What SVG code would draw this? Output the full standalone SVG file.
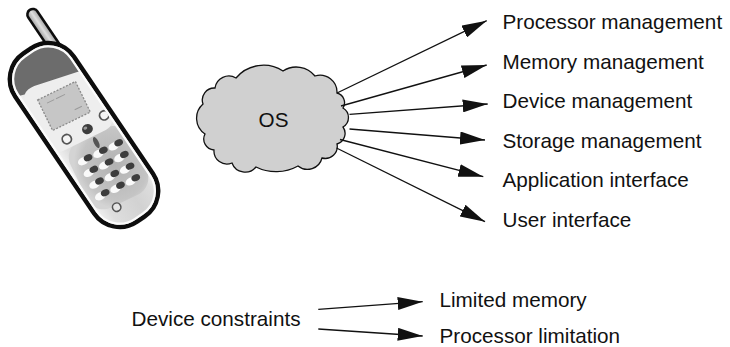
<svg xmlns="http://www.w3.org/2000/svg" width="730" height="347" viewBox="0 0 730 347">
  <defs>
    <style>
      .lbl{font-family:"Liberation Sans",Arial,Helvetica,sans-serif;font-size:20.7px;fill:#111}
      .conn{stroke:#111;stroke-width:1.3;fill:none;marker-end:url(#ah)}
      .key-lit{fill:#fafafa}
      .key-dark{fill:#3e3e3e}
    </style>
    <marker id="ah" markerUnits="userSpaceOnUse" markerWidth="25" markerHeight="13" viewBox="0 0 25 13" refX="25" refY="6.5" orient="auto">
      <path d="M0,0 L25,6.5 L0,13 Z" fill="#111"/>
    </marker>
    <linearGradient id="bodyGrad" x1="0" y1="0" x2="1" y2="0">
      <stop offset="0" stop-color="#f6f6f6"/>
      <stop offset="0.2" stop-color="#dedede"/>
      <stop offset="0.6" stop-color="#d2d2d2"/>
      <stop offset="0.86" stop-color="#dcdcdc"/>
      <stop offset="1" stop-color="#f2f2f2"/>
    </linearGradient>
    <linearGradient id="antGrad" x1="0" y1="0" x2="1" y2="0">
      <stop offset="0" stop-color="#9c9c9c"/>
      <stop offset="0.5" stop-color="#dedede"/>
      <stop offset="1" stop-color="#a0a0a0"/>
    </linearGradient>
    <radialGradient id="padGrad" cx="0.6" cy="0.5" r="0.6">
      <stop offset="0" stop-color="#b2b2b2"/>
      <stop offset="0.8" stop-color="#c4c4c4"/>
      <stop offset="1" stop-color="#d4d4d4"/>
    </radialGradient>
    <clipPath id="bodyClip">
      <rect x="-32" y="-98" width="64" height="196" rx="27"/>
    </clipPath>
    <filter id="soft" x="-10%" y="-10%" width="120%" height="120%">
      <feGaussianBlur stdDeviation="0.5"/>
    </filter>
  </defs>

  <rect width="730" height="347" fill="#ffffff"/>

  <!-- mobile handset -->
  <g id="phone" filter="url(#soft)">
    <g transform="translate(84,135) rotate(-34)">
      <!-- antenna -->
      <rect x="19.5" y="-134" width="11" height="50" rx="5.5" fill="url(#antGrad)" stroke="#111" stroke-width="2.6"/>
      <!-- casing -->
      <rect x="-35.5" y="-101.5" width="71" height="203" rx="31" fill="url(#bodyGrad)" stroke="#111" stroke-width="4.5"/>
      <g clip-path="url(#bodyClip)">
        <!-- dark earpiece cap -->
        <path d="M-36,-104 L36,-104 L36,-50 Q0,-57 -36,-70 Z" fill="#6c6c6c"/>
        <!-- face, in its own slightly steeper perspective -->
        <g transform="rotate(34) translate(-20,-29) rotate(-26)">
          <!-- keypad backdrop -->
          <rect x="-20" y="38" width="66" height="74" rx="18" fill="url(#padGrad)"/>
          <!-- screen surround -->
          <path d="M-34,-16 Q-34,-32 -18,-31 L26,-25 Q38,-23 38,-10 L38,28 Q38,39 27,40 L-20,40 Q-34,40 -34,28 Z" fill="#eeeeee"/>
          <!-- display -->
          <rect x="-21" y="-17" width="42" height="34" fill="#c6c6c6" stroke="#8a8a8a" stroke-width="1.3" stroke-dasharray="2 1.5"/>
          <path d="M-14,-10 h8 M-4,-10 h10 M8,8 h8" stroke="#9a9a9a" stroke-width="1" fill="none"/>
          <!-- navigation buttons -->
          <circle cx="-12" cy="31" r="4.6" fill="#f4f4f4" stroke="#555" stroke-width="1.8"/>
          <ellipse cx="11" cy="31" rx="5.5" ry="5" fill="#3c3c3c"/>
          <ellipse cx="9.5" cy="29.2" rx="2" ry="1.5" fill="#9a9a9a"/>
          <circle cx="32" cy="26" r="4.6" fill="#f4f4f4" stroke="#555" stroke-width="1.8"/>
          <ellipse cx="13" cy="47" rx="2.4" ry="6" fill="#555"/>
          <!-- keys -->
          <g id="keys">
            <ellipse class="key-lit" cx="-7" cy="58" rx="5.5" ry="3.8"/><ellipse class="key-dark" cx="-1" cy="57" rx="4.5" ry="3.3"/>
            <ellipse class="key-lit" cx="10" cy="58" rx="5.5" ry="3.8"/><ellipse class="key-dark" cx="16" cy="57" rx="4.5" ry="3.3"/>
            <ellipse class="key-lit" cx="27" cy="58" rx="5.5" ry="3.8"/><ellipse class="key-dark" cx="33" cy="57" rx="4.5" ry="3.3"/>
            <ellipse class="key-lit" cx="-7" cy="71" rx="5.5" ry="3.8"/><ellipse class="key-dark" cx="-1" cy="70" rx="4.5" ry="3.3"/>
            <ellipse class="key-lit" cx="10" cy="71" rx="5.5" ry="3.8"/><ellipse class="key-dark" cx="16" cy="70" rx="4.5" ry="3.3"/>
            <ellipse class="key-lit" cx="27" cy="71" rx="5.5" ry="3.8"/><ellipse class="key-dark" cx="33" cy="70" rx="4.5" ry="3.3"/>
            <ellipse class="key-lit" cx="-7" cy="84" rx="5.5" ry="3.8"/><ellipse class="key-dark" cx="-1" cy="83" rx="4.5" ry="3.3"/>
            <ellipse class="key-lit" cx="10" cy="84" rx="5.5" ry="3.8"/><ellipse class="key-dark" cx="16" cy="83" rx="4.5" ry="3.3"/>
            <ellipse class="key-lit" cx="27" cy="84" rx="5.5" ry="3.8"/><ellipse class="key-dark" cx="33" cy="83" rx="4.5" ry="3.3"/>
            <ellipse class="key-lit" cx="-7" cy="97" rx="5.5" ry="3.8"/><ellipse class="key-dark" cx="-1" cy="96" rx="4.5" ry="3.3"/>
            <ellipse class="key-lit" cx="10" cy="97" rx="5.5" ry="3.8"/><ellipse class="key-dark" cx="16" cy="96" rx="4.5" ry="3.3"/>
            <ellipse class="key-lit" cx="27" cy="97" rx="5.5" ry="3.8"/><ellipse class="key-dark" cx="33" cy="96" rx="4.5" ry="3.3"/>
          </g>
          <!-- bottom button -->
          <circle cx="3" cy="114" r="4.2" fill="#e6e6e6" stroke="#555" stroke-width="1.6"/>
        </g>
      </g>
      <!-- inner highlight rim -->
      <rect x="-32" y="-98" width="64" height="196" rx="27" fill="none" stroke="#fbfbfb" stroke-width="2.2"/>
    </g>
  </g>

  <!-- OS cloud -->
  <g id="os">
    <path d="M203,104 A12,12 0 0 1 215,88 A14,14 0 0 1 236,78 A36,36 0 0 1 283,71 A24,24 0 0 1 315,76 A17,17 0 0 1 337,93 A10,10 0 0 1 343,108 A11,11 0 0 1 343,127 A11,11 0 0 1 337,144 A12,12 0 0 1 322,158 A15,15 0 0 1 298,166 A45,45 0 0 1 256,167 A14,14 0 0 1 232,163 A13,13 0 0 1 214,150 A11,11 0 0 1 205,134 A19,19 0 0 1 203,104 Z" fill="#d0d0d0" stroke="#111" stroke-width="1.3"/>
    <text class="lbl" x="273.5" y="127" text-anchor="middle">OS</text>
  </g>

  <!-- OS responsibilities -->
  <g id="processor-mgmt"><text class="lbl" x="502.5" y="29">Processor management</text></g>
  <g id="memory-mgmt"><text class="lbl" x="502.5" y="68.6">Memory management</text></g>
  <g id="device-mgmt"><text class="lbl" x="502.5" y="108.2">Device management</text></g>
  <g id="storage-mgmt"><text class="lbl" x="502.5" y="147.8">Storage management</text></g>
  <g id="app-interface"><text class="lbl" x="502.5" y="187.4">Application interface</text></g>
  <g id="user-interface"><text class="lbl" x="502.5" y="227">User interface</text></g>

  <!-- device constraints -->
  <g id="device-constraints"><text class="lbl" x="131.5" y="326">Device constraints</text></g>
  <g id="limited-memory"><text class="lbl" x="439.5" y="306.5">Limited memory</text></g>
  <g id="processor-limitation"><text class="lbl" x="439.5" y="343">Processor limitation</text></g>

  <!-- connectors -->
  <g id="connectors">
    <line class="conn" x1="337" y1="93" x2="486.7" y2="20.7"/>
    <line class="conn" x1="341" y1="106" x2="486.7" y2="65"/>
    <line class="conn" x1="349.5" y1="114.3" x2="487.7" y2="104"/>
    <line class="conn" x1="349.5" y1="129" x2="485" y2="140"/>
    <line class="conn" x1="340" y1="139.5" x2="483.3" y2="176.7"/>
    <line class="conn" x1="336.5" y1="148" x2="485" y2="221.7"/>
    <line class="conn" x1="318.3" y1="309.3" x2="422.7" y2="301.7"/>
    <line class="conn" x1="318.3" y1="329" x2="422.7" y2="336"/>
  </g>
</svg>
